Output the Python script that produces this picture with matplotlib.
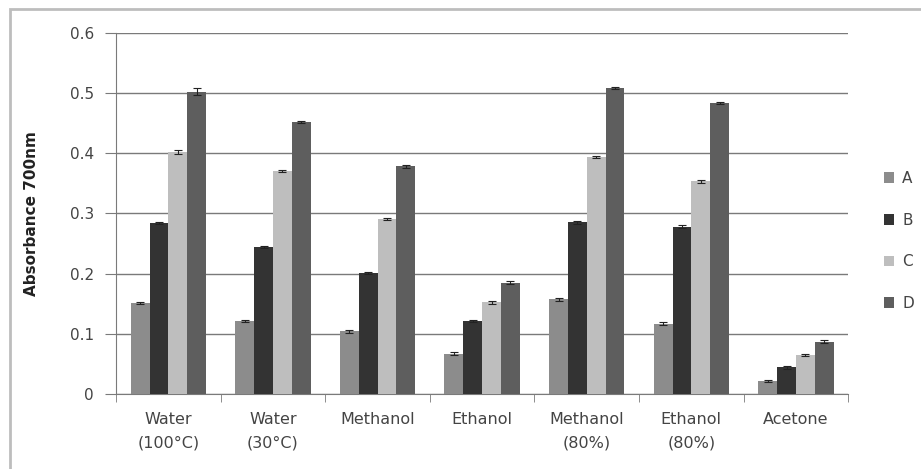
import matplotlib.pyplot as plt
import numpy as np
from matplotlib.patches import Rectangle

categories = ['Water\n(100°C)', 'Water\n(30°C)', 'Methanol', 'Ethanol',
              'Methanol\n(80%)', 'Ethanol\n(80%)', 'Acetone']
series = ['A', 'B', 'C', 'D']
vals_a = [0.151, 0.121, 0.104, 0.067, 0.157, 0.117, 0.022]
vals_b = [0.284, 0.244, 0.201, 0.121, 0.285, 0.278, 0.044]
vals_c = [0.402, 0.370, 0.291, 0.152, 0.394, 0.353, 0.065]
vals_d = [0.502, 0.452, 0.378, 0.185, 0.508, 0.483, 0.087]
err_a = [0.002, 0.002, 0.002, 0.002, 0.002, 0.002, 0.002]
err_b = [0.002, 0.002, 0.002, 0.002, 0.002, 0.002, 0.002]
err_c = [0.003, 0.002, 0.002, 0.002, 0.002, 0.002, 0.002]
err_d = [0.006, 0.002, 0.002, 0.002, 0.002, 0.002, 0.002]
colors = ['#8c8c8c', '#333333', '#bebebe', '#5e5e5e']

fig = plt.figure(figsize=(9.21, 4.69), dpi=100)
ax = fig.add_axes([0.126, 0.160, 0.795, 0.770])

# light outer frame around the chart area
fig.patches.append(Rectangle((10 / 921, -0.1), 1.2, 1 - 9 / 469 + 0.1,
                             transform=fig.transFigure, fill=False,
                             edgecolor='#bdbdbd', linewidth=2))

x = np.arange(len(categories))
width = 0.18
handles = []
for i, (vals, errs) in enumerate(zip([vals_a, vals_b, vals_c, vals_d],
                                     [err_a, err_b, err_c, err_d])):
    pos = x + (i - 1.5) * width
    h = ax.bar(pos, vals, width, color=colors[i], label=series[i], zorder=3)
    handles.append(h)
    ax.errorbar(pos, vals, yerr=errs, fmt='none', ecolor='#222222',
                elinewidth=0.8, capsize=3, capthick=0.8, zorder=4)

ax.set_xlim(-0.5, len(categories) - 0.5)
ax.set_ylim(0, 0.6)
ax.set_yticks(np.arange(0, 0.61, 0.1))
ax.set_yticklabels(['0', '0.1', '0.2', '0.3', '0.4', '0.5', '0.6'])
ax.yaxis.grid(True, color='#7a7a7a', linewidth=1, zorder=0)
ax.tick_params(axis='y', length=8, color='#7a7a7a', labelsize=11,
               labelcolor='#444444', pad=8)

ax.set_xticks(x)
ax.set_xticklabels(categories, fontsize=11.5, color='#444444',
                   linespacing=1.7)
ax.tick_params(axis='x', length=0, pad=13)
ax.set_xticks(np.arange(-0.5, len(categories)), minor=True)
ax.tick_params(axis='x', which='minor', length=6, color='#7a7a7a')

for side in ['top', 'right']:
    ax.spines[side].set_visible(False)
for side in ['left', 'bottom']:
    ax.spines[side].set_color('#7a7a7a')

ax.set_ylabel('Absorbance 700nm', fontsize=11, fontweight='bold',
              color='#222222', labelpad=22)

fig.legend(handles=handles, labels=series, loc='center left',
           bbox_to_anchor=(870 / 921, 1 - 241 / 469), frameon=False,
           handlelength=0.7, handleheight=0.7, labelspacing=1.75,
           handletextpad=0.5, fontsize=11, labelcolor='#444444')

fig.savefig('out.png', dpi=100)
